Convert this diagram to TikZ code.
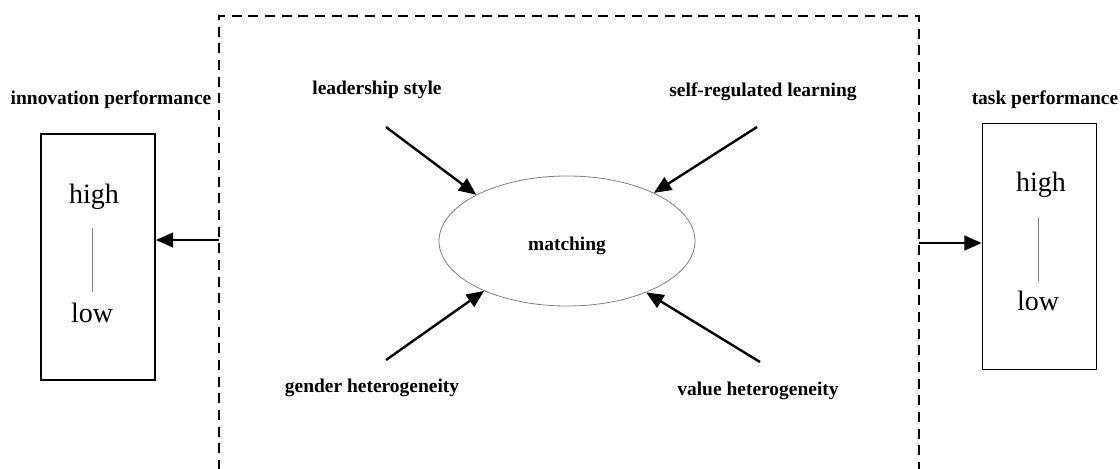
\documentclass[tikz,border=0pt]{standalone}
\usepackage{fontspec}
\setmainfont{Liberation Serif}
\usetikzlibrary{shapes}
\usetikzlibrary{arrows.meta}
\tikzstyle{lab}=[font=\fontsize{14.6}{17}\selectfont\bfseries, inner sep=0pt]
\tikzstyle{lvl}=[font=\fontsize{21}{24}\selectfont, inner sep=0pt]
\tikzstyle{perf}=[draw, line width=1.2pt, minimum width=85.5pt, minimum height=184.5pt]
\tikzstyle{push}=[-{Triangle[length=13pt,width=11pt]}, line width=1.8pt]
\tikzstyle{frame}=[line width=1.3pt, dash pattern=on 7.5pt off 5pt]

\begin{document}
\begin{tikzpicture}[x=0.75pt,y=-0.75pt]
\useasboundingbox (0,0) rectangle (1120,468);
\coordinate (f1) at (219,470);
\coordinate (f2) at (219,16);
\coordinate (f3) at (919,16);
\coordinate (f4) at (919,470);
\draw[frame] (f1) -- (f2) -- (f3) -- (f4);
% left box
\node[perf] (inno) at (98,257) {};
\node[lab] at (111,100) {innovation performance};
\node[lvl] (ihi) at (94,196.5) {high};
\node[lvl] (ilo) at (92,313) {low};
\draw[gray, line width=0.6pt, shorten <=14pt, shorten >=8pt] (ihi.south -| ilo) -- (ilo.north);
% right box
\node[perf] (task) at (1039.5,246.5) {};
\node[lab] at (1045,100) {task performance};
\node[lvl] (thi) at (1041,184.5) {high};
\node[lvl] (tlo) at (1038,301) {low};
\draw[gray, line width=0.6pt, shorten <=15pt, shorten >=7.5pt] (thi.south -| tlo) -- (tlo.north);
% outputs
\coordinate (ol) at (219,240);
\coordinate (or) at (919,243);
\draw[push] (ol) -- (inno.east |- ol);
\draw[push] (or) -- (task.west |- or);
% matching
\node[draw=gray, line width=0.6pt, ellipse, minimum width=192pt, minimum height=97.5pt, text height=18pt, font=\fontsize{14.6}{17}\selectfont\bfseries] (match) at (567,241) {matching};
\node[lab] at (377,90) {leadership style};
\node[lab] at (763,92) {self-regulated learning};
\node[lab] at (372,388) {gender heterogeneity};
\node[lab] at (758,391) {value heterogeneity};
\coordinate (tl) at (386,127);
\coordinate (tr) at (757,127);
\coordinate (bl) at (386,360);
\coordinate (br) at (760,362);
\draw[push] (tl) -- (match.153.7);
\draw[push] (tr) -- (match.29);
\draw[push] (bl) -- (match.211.6);
\draw[push] (br) -- (match.327);
\end{tikzpicture}
\end{document}
